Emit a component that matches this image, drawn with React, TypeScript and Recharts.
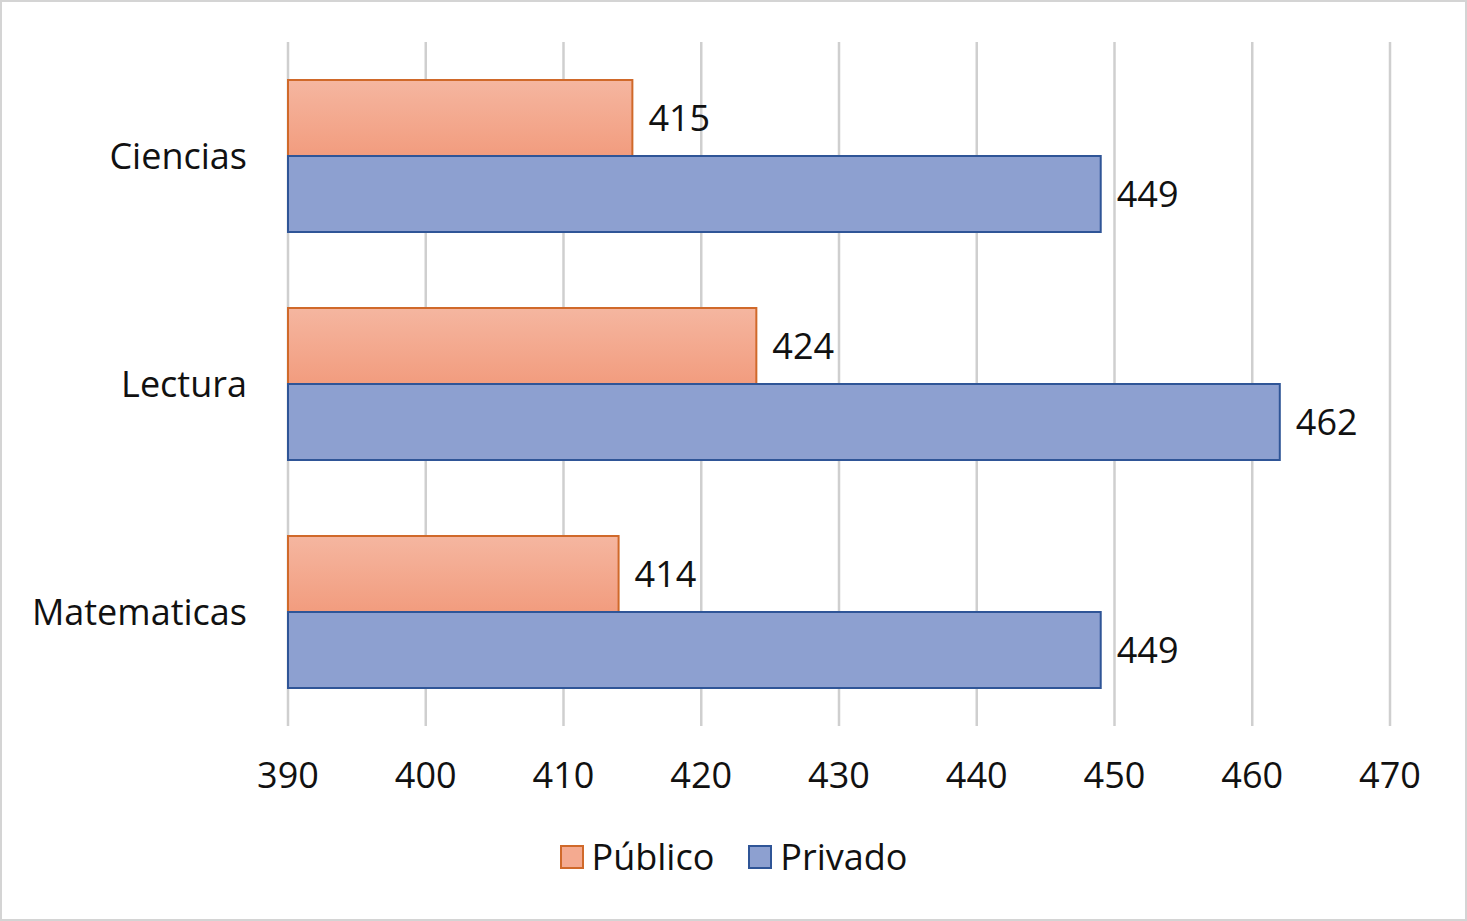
import React from "react";
import { BarChart, Bar, XAxis, YAxis, CartesianGrid, Legend, LabelList } from "recharts";

const categories = ["Ciencias", "Lectura", "Matematicas"];
const publico = [415, 424, 414];
const privado = [449, 462, 449];
const xTicks = [390, 400, 410, 420, 430, 440, 450, 460, 470];
const seriesOrder = ["publico", "privado"];

const data = categories.map((c, i) => ({ name: c, publico: publico[i], privado: privado[i] }));

const FONT = "'Open Sans', sans-serif";
const FS = 36;

const LegendContent = (props: any) => {
  const payload = [...(props.payload || [])].sort(
    (a: any, b: any) => seriesOrder.indexOf(a.dataKey) - seriesOrder.indexOf(b.dataKey)
  );
  return (
    <div style={{ display: "flex", justifyContent: "center", alignItems: "center", fontFamily: FONT, fontSize: FS, color: "#111", lineHeight: "46px" }}>
      {payload.map((p: any, i: number) => (
        <div key={i} style={{ display: "flex", alignItems: "center", marginLeft: i === 0 ? 0 : 34 }}>
          <div
            style={{
              width: 20,
              height: 20,
              background: p.dataKey === "publico" ? "#f4aa90" : "#8da0d0",
              border: `2px solid ${p.dataKey === "publico" ? "#d0692a" : "#2f5597"}`,
              marginRight: 8,
            }}
          />
          <span>{p.value}</span>
        </div>
      ))}
    </div>
  );
};

export default function App() {
  return (
    <div
      style={{
        position: "absolute",
        left: 0,
        top: 0,
        width: 1467,
        height: 921,
        border: "2px solid #d4d4d4",
        boxSizing: "border-box",
        background: "#fff",
      }}
    >
      <div style={{ position: "absolute", left: -2, top: -2 }}>
        <BarChart
          width={1467}
          height={921}
          data={data}
          layout="vertical"
          margin={{ top: 42, right: 77, left: 0, bottom: 69 }}
          barCategoryGap="16.7%"
          barGap={0}
        >
          <defs>
            <linearGradient id="pubGrad" x1="0" y1="0" x2="0" y2="1">
              <stop offset="0%" stopColor="#f5b6a0" />
              <stop offset="100%" stopColor="#f29c7e" />
            </linearGradient>
          </defs>
          <CartesianGrid horizontal={false} stroke="#cfcfcf" strokeWidth={2.5} />
          <XAxis
            type="number"
            domain={[390, 470]}
            ticks={xTicks}
            axisLine={false}
            tickLine={false}
            tickMargin={30}
            height={80}
            tick={{ fontFamily: FONT, fontSize: FS, fill: "#111" }}
            interval={0}
          />
          <YAxis
            type="category"
            dataKey="name"
            width={288}
            axisLine={false}
            tickLine={false}
            tickMargin={35}
            tick={{ fontFamily: FONT, fontSize: FS, fill: "#111" }}
          />
          <Legend
            content={<LegendContent />}
            wrapperStyle={{ top: 834, left: 0, width: 1467 }}
          />
          <Bar dataKey="publico" name="Público" fill="url(#pubGrad)" stroke="#d0692a" strokeWidth={2} isAnimationActive={false}>
            <LabelList dataKey="publico" position="right" offset={16} style={{ fontFamily: FONT, fontSize: FS, fill: "#111" }} />
          </Bar>
          <Bar dataKey="privado" name="Privado" fill="#8da0d0" stroke="#2f5597" strokeWidth={2} isAnimationActive={false}>
            <LabelList dataKey="privado" position="right" offset={16} style={{ fontFamily: FONT, fontSize: FS, fill: "#111" }} />
          </Bar>
        </BarChart>
      </div>
    </div>
  );
}
